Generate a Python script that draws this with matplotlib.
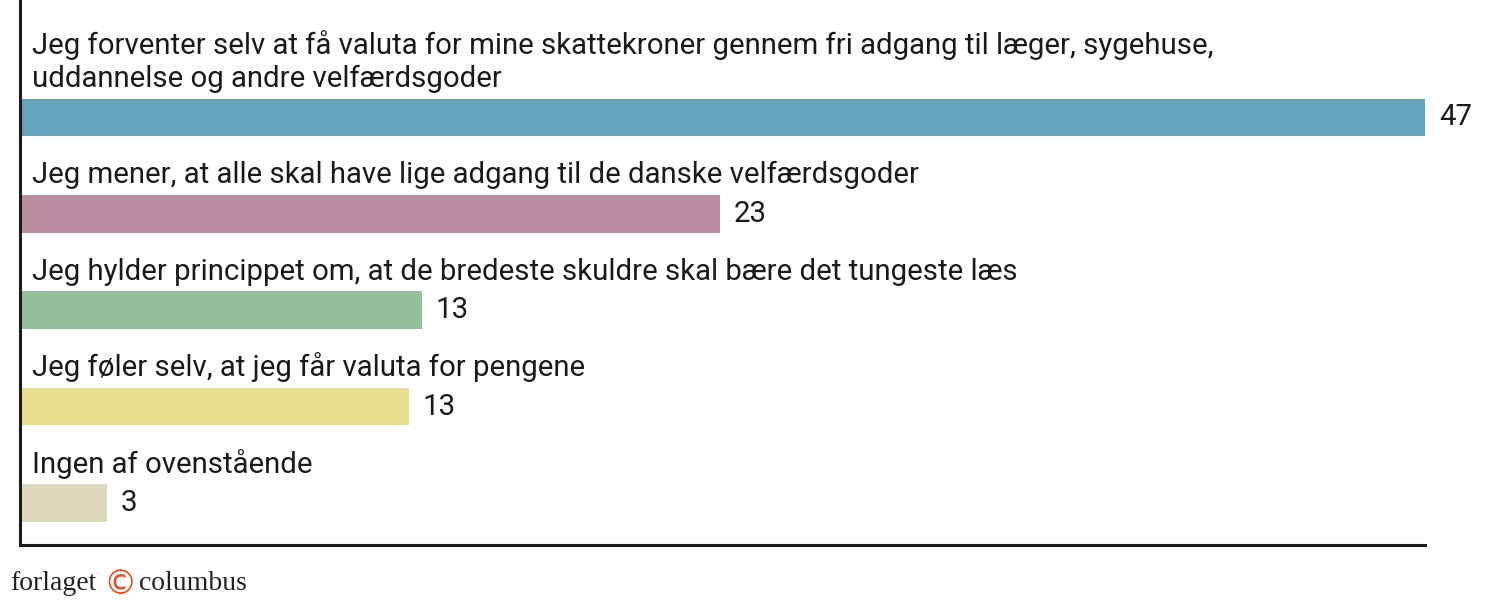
import matplotlib
matplotlib.use("Agg")
import matplotlib.pyplot as plt

# data (bar lengths; printed labels are rounded)
categories = [
    "Jeg forventer selv at få valuta for mine skattekroner gennem fri adgang til læger, sygehuse,\nuddannelse og andre velfærdsgoder",
    "Jeg mener, at alle skal have lige adgang til de danske velfærdsgoder",
    "Jeg hylder princippet om, at de bredeste skuldre skal bære det tungeste læs",
    "Jeg føler selv, at jeg får valuta for pengene",
    "Ingen af ovenstående",
]
values = [47.0, 23.4, 13.45, 13.0, 2.9]
labels = ["47", "23", "13", "13", "3"]
colors = ["#64a3bc", "#b98da0", "#95bf9b", "#e8de90", "#dcd8bb"]

font = "Roboto"
fsize = 21.2

fig = plt.figure(figsize=(15, 6.04), dpi=100)
ax = fig.add_axes([20 / 1500, 59 / 604, 1405 / 1500, 545 / 604])

bar_h = 0.39
ypos = list(range(len(values)))
ax.barh(ypos, values, height=bar_h, color=colors)
ax.set_xlim(0, 47.0)
ax.set_ylim(4.435, -1.218)

for y, v, lab, cat in zip(ypos, values, labels, categories):
    ax.text(0.4, y - bar_h / 2 - 0.12, cat, ha="left", va="baseline",
            fontsize=fsize, family=font, color="#1a1a1a", linespacing=1.2)
    ax.annotate(lab, (v, y), xytext=(10, 0), textcoords="offset points",
                ha="left", va="center", fontsize=fsize, family=font, color="#1a1a1a")

for s in ["top", "right"]:
    ax.spines[s].set_visible(False)
for s in ["left", "bottom"]:
    ax.spines[s].set_linewidth(2.2)
    ax.spines[s].set_color("#1a1a1a")
ax.set_xticks([])
ax.set_yticks([])

# footer
fig.text(10 / 1500, 20 / 604, "forlaget", family="Liberation Serif", fontsize=20,
         color="#222222", va="center", ha="left")
fig.text(103 / 1500, 19 / 604, "\u00a9", family="DejaVu Sans", fontsize=24,
         color="#e0502a", va="center", ha="left")
fig.text(139 / 1500, 20 / 604, "columbus", family="Liberation Serif", fontsize=20,
         color="#222222", va="center", ha="left")

fig.savefig("out.png", dpi=100)
